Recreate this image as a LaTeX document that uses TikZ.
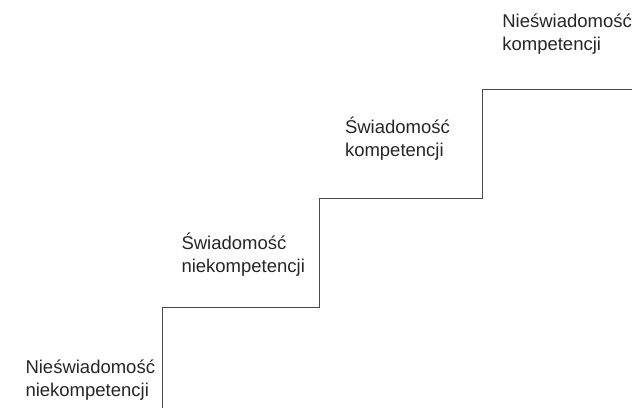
\documentclass[tikz,border=0pt]{standalone}
\usepackage{fontspec}
\setmainfont{Liberation Sans}
\definecolor{stairline}{HTML}{4A4A4A}
\definecolor{labeltext}{HTML}{262626}
\begin{document}
\begin{tikzpicture}[x=1pt,y=-1pt,
  stairlabel/.style={anchor=base west,inner sep=0pt,outer sep=0pt,text=labeltext,
    font=\fontsize{18.5}{23.4}\selectfont},
  stairpath/.style={draw=stairline,line width=1.5pt}]
\useasboundingbox (0,0) rectangle (632,413);
\coordinate (s0) at (162.7,408);
\coordinate (c1) at (162.7,307.5);
\coordinate (c2) at (319.3,307.5);
\coordinate (c3) at (319.3,198.5);
\coordinate (c4) at (482.7,198.5);
\coordinate (c5) at (482.7,89.3);
\coordinate (s1) at (632,89.3);
\draw[stairpath] (s0) -- (c1) -- (c2) -- (c3) -- (c4) -- (c5) -- (s1);
\node[stairlabel] (l1) at (25.5,373.3) {\begin{tabular}[t]{@{}l@{}}Nieświadomość\\niekompetencji\end{tabular}};
\node[stairlabel] (l2) at (181.5,249.3) {\begin{tabular}[t]{@{}l@{}}Świadomość\\niekompetencji\end{tabular}};
\node[stairlabel] (l3) at (345,133.3) {\begin{tabular}[t]{@{}l@{}}Świadomość\\kompetencji\end{tabular}};
\node[stairlabel] (l4) at (502.3,27.3) {\begin{tabular}[t]{@{}l@{}}Nieświadomość\\kompetencji\end{tabular}};
\end{tikzpicture}
\end{document}
